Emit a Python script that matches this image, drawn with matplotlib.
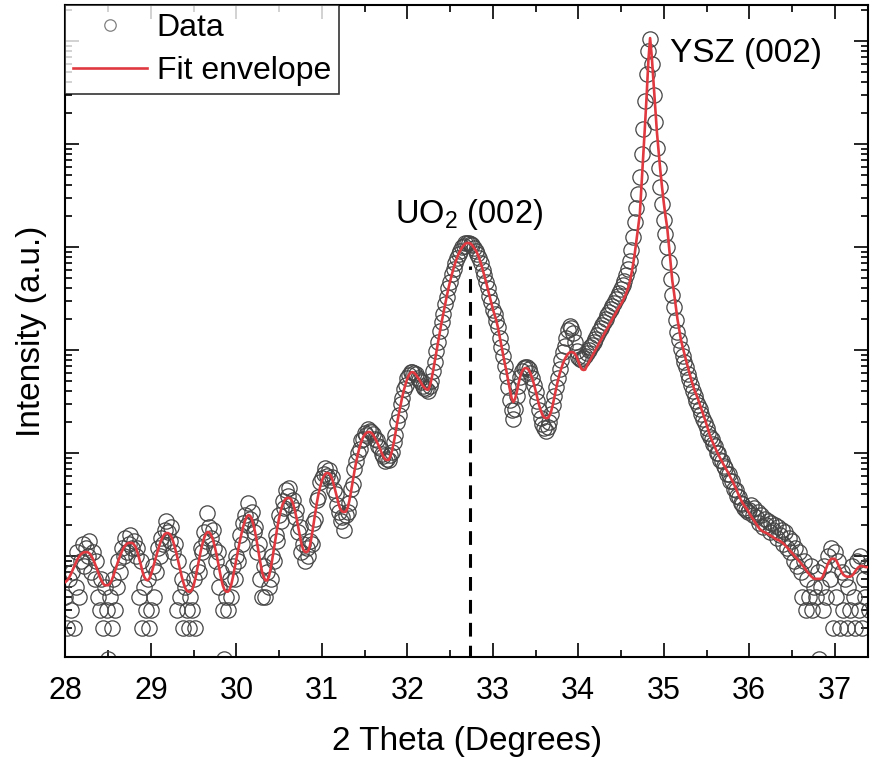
import numpy as np
import matplotlib
matplotlib.use("Agg")
import matplotlib.pyplot as plt
from matplotlib.ticker import MultipleLocator, LogLocator, NullFormatter

plt.rcParams['font.family'] = ['Liberation Sans', 'DejaVu Sans']
plt.rcParams['mathtext.fontset'] = 'custom'
plt.rcParams['mathtext.rm'] = 'Liberation Sans'
plt.rcParams['mathtext.it'] = 'Liberation Sans:italic'

# scan grid (2 theta, degrees)
scan_start = 28.0
scan_step = 0.02

# measured counts, one value per scan step (rows of 0.2 deg)
counts = [
    4, 2, 6, 3, 7, 2, 5, 11, 4, 9,
    13, 8, 12, 10, 14, 7, 11, 6, 9, 4,
    3, 6, 2, 5, 3, 1, 4, 2, 6, 3,
    5, 9, 7, 12, 10, 15, 11, 13, 16, 12,
    14, 10, 12, 4, 9, 2, 5, 3, 6, 2,
    3, 8, 4, 7, 12, 10, 15, 13, 18, 22,
    17, 14, 19, 11, 13, 3, 9, 4, 6, 2,
    5, 3, 2, 4, 3, 6, 2, 8, 7, 12,
    11, 17, 14, 26, 19, 15, 18, 12, 9, 11,
    5, 7, 3, 1, 4, 3, 6, 4, 8, 6,
    10, 9, 16, 13, 21, 25, 20, 33, 23, 27,
    17, 19, 11, 13, 6, 4, 8, 4, 7, 5,
    6, 10, 9, 16, 14, 25, 22, 34, 29, 44,
    38, 46, 31, 35, 24, 28, 17, 19, 11, 13,
    9, 12, 10, 14, 13, 21, 23, 35, 37, 52,
    57, 62, 72, 60, 68, 55, 58, 44, 40, 31,
    27, 22, 24, 18, 25, 27, 33, 45, 50, 70,
    84, 100, 110, 134, 138, 158, 150, 172, 163, 160,
    152, 138, 133, 117, 112, 97, 93, 84, 88, 85,
    95, 103, 128, 150, 200, 236, 298, 345, 420, 462,
    540, 570, 612, 606, 598, 580, 540, 510, 485, 445,
    425, 418, 402, 445, 505, 630, 760, 975, 1190, 1520,
    1870, 2230, 2780, 3280, 3990, 4620, 5450, 6150, 7050, 7750,
    8650, 9250, 9950, 10350, 10850, 10900, 11000, 10750, 10450, 9750,
    9250, 8650, 7750, 7000, 6050, 5350, 4550, 4000, 3350, 2950,
    2450, 2230, 1900, 1680, 1300, 1080, 870, 700, 560, 440,
    330, 260, 215, 270, 360, 450, 545, 625, 670, 690,
    680, 650, 600, 530, 460, 395, 320, 260, 220, 190,
    175, 165, 180, 200, 240, 290, 360, 440, 540, 660,
    800, 950, 1100, 1300, 1550, 1700, 1650, 1450, 1200, 980,
    860, 820, 800, 830, 880, 940, 1000, 1060, 1130, 1200,
    1290, 1400, 1520, 1640, 1760, 1880, 2020, 2170, 2330, 2500,
    2680, 2880, 3100, 3350, 3620, 3900, 4250, 4700, 5300, 6100,
    7300, 9300, 12500, 17500, 24000, 33000, 48000, 80000, 140000, 260000,
    480000, 800000, 1050000, 600000, 300000, 165000, 92000, 58000, 38000, 26000,
    18500, 13500, 10000, 7100, 4900, 3400, 2600, 1950, 1500, 1250,
    1020, 880, 770, 680, 590, 520, 455, 400, 355, 320,
    290, 265, 240, 215, 195, 176, 158, 142, 138, 122,
    118, 101, 99, 86, 84, 74, 72, 63, 62, 54,
    53, 45, 44, 38, 37, 33, 32, 29, 28, 27,
    28, 31, 25, 29, 24, 27, 21, 25, 19, 23,
    20, 22, 17, 21, 18, 20, 15, 19, 16, 18,
    13, 17, 12, 15, 11, 14, 9, 12, 8, 11,
    7, 4, 9, 3, 6, 4, 8, 3, 5, 4,
    7, 1, 5, 3, 8, 4, 10, 6, 12, 2,
    11, 4, 9, 2, 7, 3, 6, 2, 5, 3,
    8, 4, 2, 9, 3, 10, 2, 6, 4, 8,
    3,
]

# fit envelope on the same grid
fit = [
    5.6, 5.8, 6.1, 6.6, 7.2, 7.9, 8.6, 9.3, 9.9, 10.4,
    10.7, 10.9, 10.9, 10.9, 10.6, 10.1, 9.4, 8.6, 7.8, 7.0,
    6.3, 5.8, 5.4, 5.2, 5.2, 5.2, 5.4, 5.8, 6.4, 7.2,
    8.1, 9.1, 10.1, 11.1, 12.0, 12.7, 13.2, 13.4, 13.4, 13.4,
    13.0, 12.2, 11.0, 9.6, 8.3, 7.1, 6.3, 5.9, 5.8, 6.0,
    6.6, 7.5, 8.6, 9.9, 11.3, 12.8, 14.2, 15.4, 16.3, 16.7,
    16.7, 16.3, 15.3, 13.8, 12.1, 10.4, 8.8, 7.4, 6.3, 5.5,
    4.9, 4.6, 4.5, 4.5, 4.7, 5.2, 6.1, 7.4, 9.0, 10.9,
    12.9, 14.8, 16.3, 17.1, 17.0, 16.2, 14.8, 13.0, 11.0, 9.1,
    7.4, 6.1, 5.2, 4.7, 4.5, 4.5, 4.7, 5.3, 6.3, 7.7,
    9.5, 11.6, 14.0, 16.6, 19.4, 22.0, 24.0, 25.0, 24.6, 22.8,
    20.0, 16.8, 13.6, 10.8, 8.6, 7.0, 6.2, 5.8, 5.8, 6.3,
    7.5, 9.4, 12.0, 15.3, 19.3, 23.5, 27.8, 31.6, 34.5, 36.2,
    36.7, 36.6, 35.5, 32.8, 28.6, 24.0, 19.7, 16.0, 13.2, 11.6,
    11.0, 10.9, 11.2, 12.6, 15.5, 19.8, 25.5, 32.5, 40, 47,
    54, 59, 63, 64, 63.5, 61, 56, 49, 42, 36,
    31, 28, 27, 26.7, 27, 29, 34, 42, 53, 66,
    81, 97, 113, 128, 141, 151, 157, 160, 160, 157,
    150, 140, 130, 120, 110, 100, 92, 87, 85.5, 86,
    92, 105, 125, 155, 195, 240, 290, 350, 410, 470,
    530, 575, 605, 611, 600, 575, 545, 515, 480, 450,
    430, 415, 410, 440, 510, 620, 770, 960, 1200, 1500,
    1850, 2250, 2750, 3300, 3950, 4650, 5400, 6200, 7000, 7800,
    8600, 9300, 9900, 10400, 10800, 10950, 10950, 10800, 10400, 9800,
    9300, 8600, 7800, 6950, 6100, 5300, 4600, 3950, 3400, 2900,
    2500, 2200, 1950, 1650, 1350, 1100, 900, 740, 620, 500,
    410, 340, 313, 335, 390, 470, 550, 615, 655, 668,
    665, 640, 595, 535, 470, 405, 345, 295, 260, 235,
    222, 218, 219, 228, 250, 290, 350, 420, 500, 580,
    660, 740, 810, 870, 920, 950, 957, 950, 920, 860,
    780, 700, 650, 640, 645, 700, 750, 805, 865, 930,
    995, 1070, 1150, 1230, 1320, 1420, 1520, 1630, 1750, 1880,
    2020, 2160, 2320, 2490, 2650, 2800, 3000, 3250, 3550, 3950,
    4500, 5400, 6700, 8600, 11500, 15500, 21000, 40000, 75000, 150000,
    300000, 650000, 1070000, 700000, 400000, 230000, 130000, 85000, 55000, 38000,
    27000, 20000, 15500, 10500, 7000, 4700, 3600, 2700, 2000, 1600,
    1270, 1080, 930, 800, 690, 600, 520, 460, 405, 370,
    335, 300, 268, 240, 214, 190, 168, 148, 134, 123,
    113, 104, 96, 89, 83, 77, 72, 67, 63, 58,
    54, 50, 46, 42, 38.5, 35.5, 33, 31, 29.5, 28,
    26, 24.5, 23, 21.7, 20.5, 19.4, 18.4, 17.8, 17.3, 17.0,
    16.7, 16.4, 16.0, 15.6, 15.2, 14.8, 14.5, 14.3, 14.0, 13.6,
    13.2, 12.7, 12.2, 11.7, 11.2, 10.7, 10.2, 9.8, 9.4, 9.0,
    8.6, 8.2, 7.8, 7.4, 7.0, 6.7, 6.4, 6.2, 6.0, 6.0,
    6.0, 6.0, 6.0, 6.3, 6.9, 7.6, 8.4, 9.0, 9.4, 9.4,
    9.4, 9.0, 8.3, 7.6, 7.0, 6.6, 6.4, 6.3, 6.3, 6.3,
    6.4, 6.7, 7.1, 7.5, 7.8, 8.0, 8.0, 7.9, 7.8, 7.8,
    7.8,
]

two_theta = scan_start + scan_step * np.arange(len(counts))

uo2_peak = 32.73
uo2_line_top = 6500

fig = plt.figure(figsize=(8.71, 7.61), dpi=100)
ax = fig.add_axes([0.0752, 0.1367, 0.9214, 0.8567])

ax.plot(two_theta, counts, 'o', ms=11, mfc='none', mec='#454545', mew=0.9,
        label='Data', zorder=2)
ax.plot(two_theta, fit, '-', color='#e03a40', lw=1.9, label='Fit envelope',
        zorder=3)
ax.plot([uo2_peak, uo2_peak], [1.0, uo2_line_top], color='black', lw=2.2,
        dashes=(4.5, 3), zorder=4)

ax.text(35.07, 6.25e5, 'YSZ (002)', fontsize=24, ha='left', va='baseline')
ax.text(32.72, 1.71e4, 'UO$_2$ (002)', fontsize=23.5, ha='center', va='baseline')

ax.set_yscale('log')
ax.set_xlim(28.0, 37.39)
ax.set_ylim(1.046, 2.24e6)

ax.xaxis.set_major_locator(MultipleLocator(1))
ax.xaxis.set_minor_locator(MultipleLocator(0.5))
ax.yaxis.set_major_locator(LogLocator(base=10, numticks=20))
ax.yaxis.set_minor_locator(LogLocator(base=10, subs=np.arange(2, 10), numticks=20))
ax.yaxis.set_major_formatter(NullFormatter())
ax.yaxis.set_minor_formatter(NullFormatter())

ax.tick_params(which='both', direction='in', top=True, right=True, width=1.2)
ax.tick_params(which='major', length=10)
ax.tick_params(which='minor', length=5)
ax.tick_params(axis='x', labelsize=22, pad=14)
for sp in ax.spines.values():
    sp.set_linewidth(1.5)

ax.set_xlabel('2 Theta (Degrees)', fontsize=24, labelpad=14)
ax.set_ylabel('Intensity (a.u.)', fontsize=24, labelpad=10)

leg = ax.legend(loc='upper left', bbox_to_anchor=(0, 1), borderaxespad=0,
                fancybox=False, edgecolor='black', fontsize=23, numpoints=1,
                handlelength=2.3, handletextpad=0.3, borderpad=0.25,
                labelspacing=0.4, markerscale=0.75)
leg.get_frame().set_linewidth(1.2)
leg.legend_handles[0].set_markeredgecolor('#808080')

fig.savefig('out.png', dpi=100)
